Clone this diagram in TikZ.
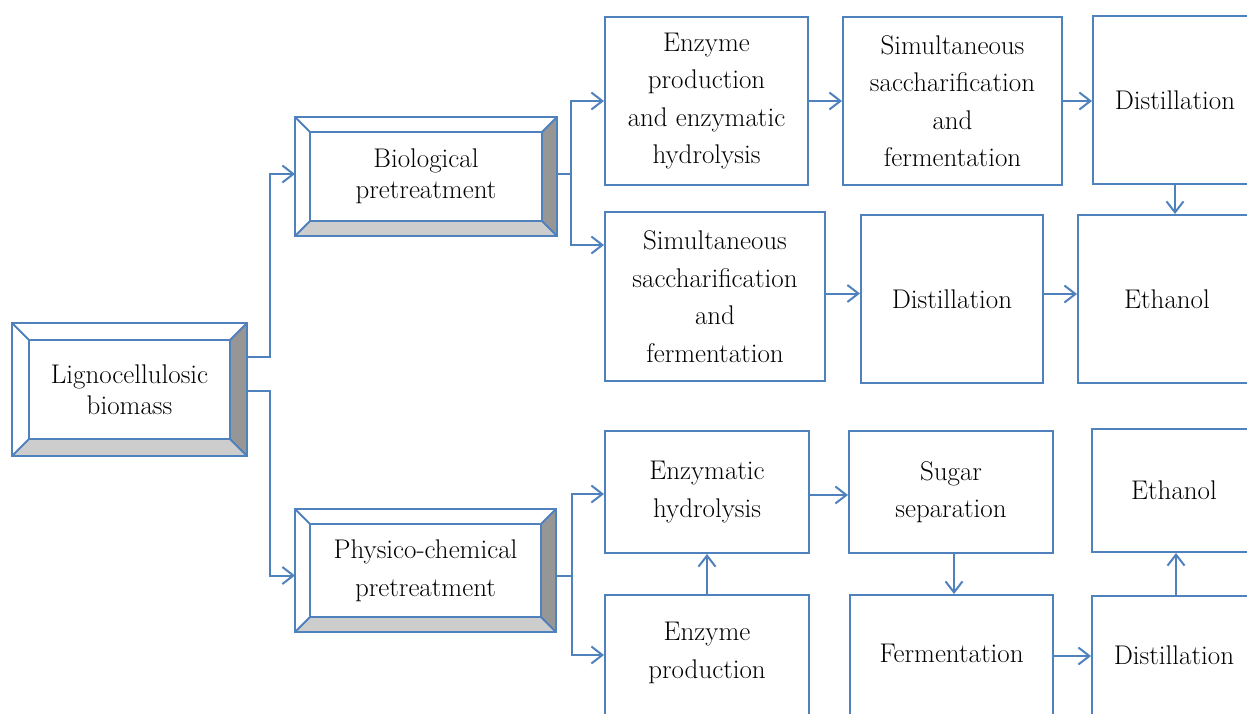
\documentclass[tikz,border=0pt]{standalone}
\usetikzlibrary{arrows.meta,calc}
\definecolor{bl}{RGB}{79,129,189}
\definecolor{dface}{RGB}{150,150,150}
\definecolor{lface}{RGB}{205,205,205}
\tikzset{
  box/.style={draw=bl, line width=2pt, align=center, inner sep=0pt, fill=white,
    font=\fontsize{27}{37.5}\selectfont},
  bevnode/.style={draw=bl, line width=2pt, align=center, inner sep=0pt, outer sep=0pt,
    font=\fontsize{27}{31}\selectfont},
  arr/.style={draw=bl, line width=2pt, -{Straight Barb[length=11pt,width=17pt]}},
  bevline/.style={draw=bl, line width=1.8pt},
}
\newcommand{\bevelfaces}[2]{%
  \coordinate (#1-a) at ($(#1.north west)+(#2,#2)$);
  \coordinate (#1-b) at ($(#1.north east)+(-#2,#2)$);
  \coordinate (#1-c) at ($(#1.south east)+(-#2,-#2)$);
  \coordinate (#1-d) at ($(#1.south west)+(#2,-#2)$);
  \fill[dface] (#1.north east) -- (#1.south east) -- (#1-c) -- (#1-b) -- cycle;
  \fill[lface] (#1.south west) -- (#1.south east) -- (#1-c) -- (#1-d) -- cycle;
  \draw[bevline] (#1.north west) rectangle (#1.south east);
  \draw[bevline] (#1-a) rectangle (#1-c);
  \draw[bevline] (#1.north west) -- (#1-a) (#1.north east) -- (#1-b)
    (#1.south east) -- (#1-c) (#1.south west) -- (#1-d);
}
\begin{document}
\begin{tikzpicture}[x=1pt,y=-1pt]
\useasboundingbox (0,0) rectangle (1247,713);
\clip (0,0) rectangle (1247,713);

% bevelled boxes
\node[bevnode, minimum width=235, minimum height=133] (ligno) at (129.5,389.5) {Lignocellulosic\\biomass};
\bevelfaces{ligno}{17}
\node[bevnode, minimum width=262, minimum height=119] (bio) at (426,176.5) {Biological\\pretreatment};
\bevelfaces{bio}{15}
\node[bevnode, minimum width=261, minimum height=123, font=\fontsize{27}{38}\selectfont] (phys) at (425.5,570.5) {Physico-chemical\\pretreatment};
\bevelfaces{phys}{15}

% upper branch
\node[box, minimum width=203, minimum height=168] (b1) at (706.5,101) {Enzyme\\production\\and enzymatic\\hydrolysis};
\node[box, minimum width=219, minimum height=168] (b2) at (952.5,101) {Simultaneous\\saccharification\\and\\fermentation};
\node[box, minimum width=164, minimum height=168] (b3) at (1175,100) {Distillation};
\node[box, minimum width=220, minimum height=169] (b4) at (715,296.5) {Simultaneous\\saccharification\\and\\fermentation};
\node[box, minimum width=182, minimum height=168] (b5) at (952,299) {Distillation};
\node[box, minimum width=178, minimum height=168] (b6) at (1167,299) {Ethanol};

% lower branch
\node[box, minimum width=204, minimum height=122] (c1) at (707,492) {Enzymatic\\hydrolysis};
\node[box, minimum width=204, minimum height=122] (c2) at (951,492) {Sugar\\separation};
\node[box, minimum width=164, minimum height=123] (c3) at (1174,490.5) {Ethanol};
\node[box, minimum width=204, minimum height=124] (c4) at (707,657) {Enzyme\\production\rule[-13pt]{0pt}{13pt}};
\node[box, minimum width=203, minimum height=124] (c5) at (951.5,657) {Fermentation\rule[-8pt]{0pt}{8pt}};
\node[box, minimum width=164, minimum height=124] (c6) at (1174,658) {Distillation\rule[-6pt]{0pt}{6pt}};

% connectors
\draw[arr] ($(ligno.east)+(0,-32.5)$) -- ++(23,0) |- ($(bio.west)+(0,-2.5)$);
\draw[arr] ($(ligno.east)+(0,1.5)$) -- ++(23,0) |- ($(phys.west)+(0,5)$);
\draw[arr] ($(bio.east)+(0,-2.5)$) -- ++(14,0) |- (b1.west);
\draw[arr] ($(bio.east)+(0,-2.5)$) -- ++(14,0) |- ($(b4.west)+(0,-51.5)$);
\draw[arr] ($(phys.east)+(0,5.5)$) -- ++(16,0) |- ($(c1.west)+(0,2)$);
\draw[arr] ($(phys.east)+(0,5.5)$) -- ++(16,0) |- ($(c4.west)+(0,-2)$);
\draw[arr] (b1.east) -- (b1.east -| b2.west);
\draw[arr] (b2.east) -- (b2.east -| b3.west);
\draw[arr] (b3.south) -- (b3.south |- b6.north);
\draw[arr] ($(b4.east)+(0,-3)$) -- ($(b4.east -| b5.west)+(0,-3)$);
\draw[arr] ($(b5.east)+(0,-5)$) -- ($(b5.east -| b6.west)+(0,-5)$);
\draw[arr] (c4.north) -- (c1.south);
\draw[arr] ($(c1.east)+(0,3)$) -- ($(c1.east -| c2.west)+(0,3)$);
\draw[arr] ($(c2.south)+(3,0)$) -- ($(c5.north)+(2.5,0)$);
\draw[arr] ($(c5.east)+(0,-1)$) -- ($(c5.east -| c6.west)+(0,-1)$);
\draw[arr] ($(c6.north)+(2,0)$) -- ($(c3.south)+(2,0)$);
\end{tikzpicture}
\end{document}
